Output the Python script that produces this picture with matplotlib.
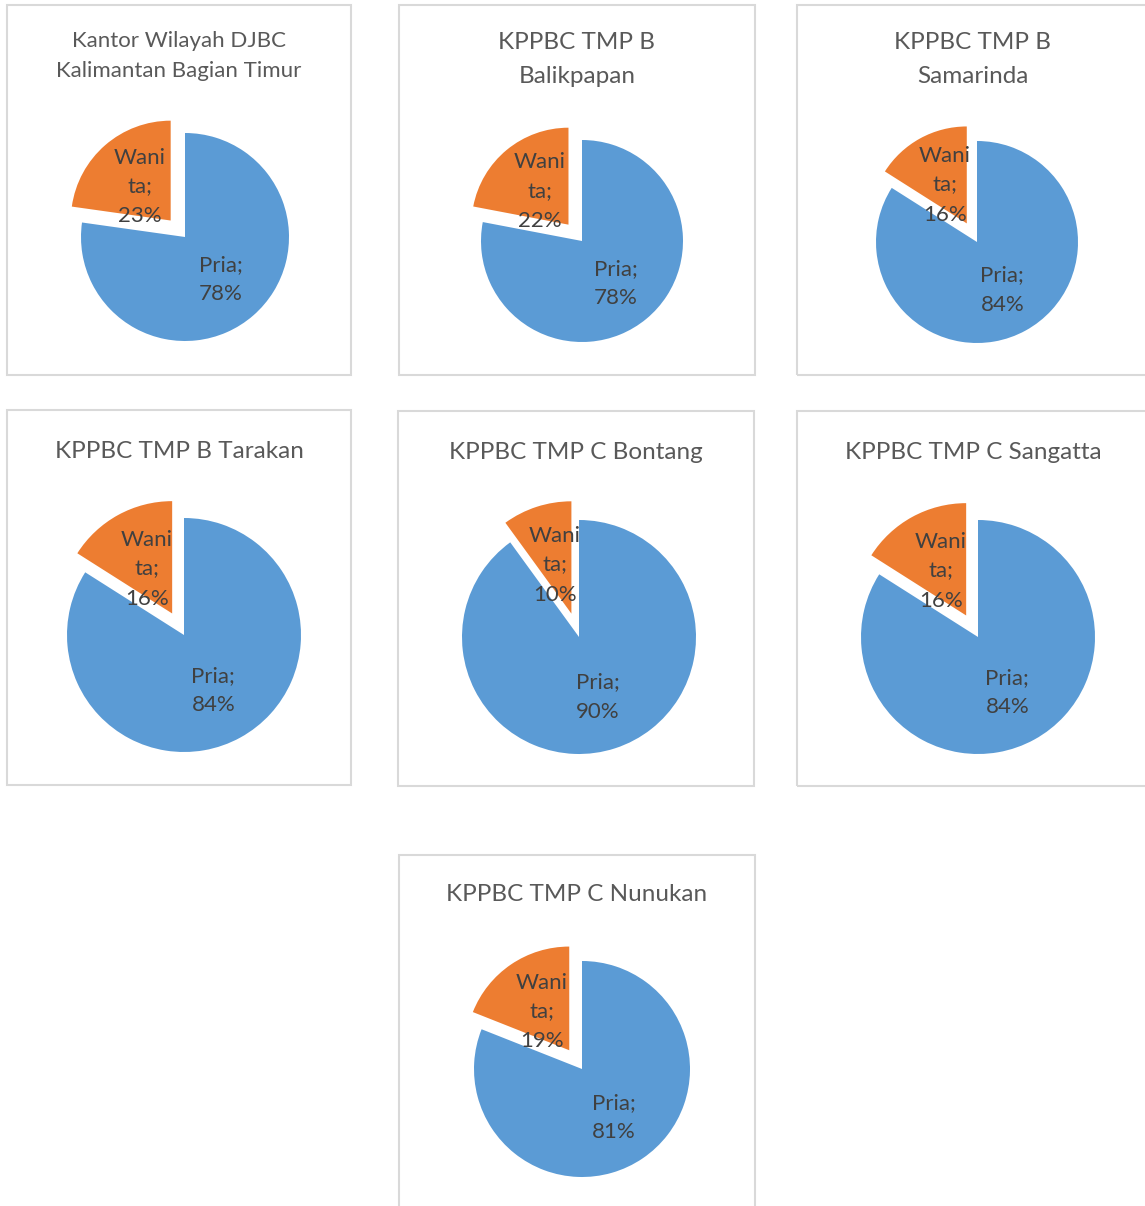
import numpy as np
import matplotlib.pyplot as plt
from matplotlib.patches import Rectangle

plt.rcParams['font.family'] = ['Lato', 'DejaVu Sans']

# data
titles = [
    "Kantor Wilayah DJBC\nKalimantan Bagian Timur",
    "KPPBC TMP B\nBalikpapan",
    "KPPBC TMP B\nSamarinda",
    "KPPBC TMP B Tarakan",
    "KPPBC TMP C Bontang",
    "KPPBC TMP C Sangatta",
    "KPPBC TMP C Nunukan",
]
categories = ["Pria", "Wanita"]
category_labels = ["Pria;", "Wani\nta;"]
pria_pct = [78, 78, 84, 84, 90, 84, 81]
wanita_pct = [23, 22, 16, 16, 10, 16, 19]

# layout in pixels (x0, y0, x1, y1), y measured from top
W, H = 1145, 1206
boxes = [(7, 5, 351, 375), (399, 5, 755, 375), (797, 5, 1149, 375),
         (7, 410, 351, 785), (398, 411, 754, 786), (797, 411, 1149, 786),
         (399, 855, 755, 1230)]
centers = [(185, 237), (582, 241), (977, 242),
           (184, 635), (579, 637), (978, 637), (582, 1069)]
radii = [104, 101, 101, 117, 117, 117, 108]
title_y = [56, 59.5, 59.5, 451, 452.5, 452.5, 894.5]
title_size = [16, 17.5, 17.5, 17.5, 17.5, 17.5, 17.5]
title_spacing = [1.6, 1.72, 1.72, 1.5, 1.5, 1.5, 1.5]
label_dist = [0.52, 0.45]   # Pria, Wanita (fraction of radius)

BLUE, ORANGE = "#5B9BD5", "#ED7D31"

fig = plt.figure(figsize=(W / 100, H / 100), dpi=100)
ax = fig.add_axes([0, 0, 1, 1])

for i, title in enumerate(titles):
    x0, y0, x1, y1 = boxes[i]
    ax.add_patch(Rectangle((x0, H - y1), x1 - x0, y1 - y0, fill=False,
                           edgecolor="#d9d9d9", lw=1.5, clip_on=True))
    ax.text((x0 + x1) / 2, H - title_y[i], title, ha="center", va="center",
            fontsize=title_size[i], color="#595959",
            linespacing=title_spacing[i])

    vals = [pria_pct[i], wanita_pct[i]]
    labels = [f"{category_labels[0]}\n{pria_pct[i]}%",
              f"{category_labels[1]}\n{wanita_pct[i]}%"]
    cx, cy = centers[i]
    r = radii[i]
    wedges, _ = ax.pie(vals, colors=[BLUE, ORANGE], explode=[0, 0.21 * r],
                       startangle=90, counterclock=False, center=(cx, H - cy),
                       radius=r, frame=True)
    wedges[1].set_radius(0.96 * r)

    # data labels placed inside each wedge, as in Excel
    for w, lab, d in zip(wedges, labels, label_dist):
        mid = np.deg2rad((w.theta1 + w.theta2) / 2)
        wx, wy = w.center
        ax.text(wx + d * r * np.cos(mid), wy + d * r * np.sin(mid) - 2, lab,
                ha="center", va="center", fontsize=16, color="#404040",
                linespacing=1.58)

ax.set_xlim(0, W)
ax.set_ylim(0, H)
ax.set_aspect("equal")
ax.axis("off")
fig.savefig("out.png", dpi=100, facecolor="white")
